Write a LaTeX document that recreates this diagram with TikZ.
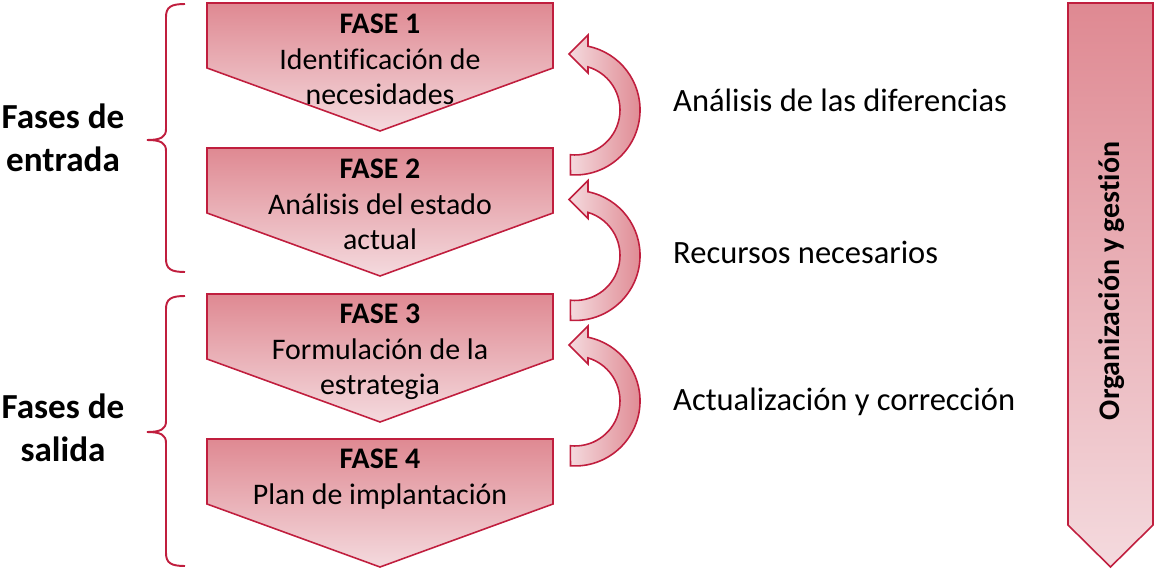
\documentclass[tikz,border=0pt]{standalone}
\usepackage{fontspec}
\setmainfont{Carlito}[Ligatures=NoCommon]
\usepackage{xcolor}
\usepackage{tikz}
\usetikzlibrary{calc}

\definecolor{faseborde}{RGB}{192,30,62}
\definecolor{fasearriba}{RGB}{223,137,146}
\definecolor{faseabajo}{RGB}{244,218,222}

\newcommand{\fasebox}[1]{%
  \shade[top color=fasearriba,bottom color=faseabajo,draw=faseborde,line width=0.9pt]
    (207,#1) -- (553,#1) -- (553,{#1+65}) -- (380,{#1+128}) -- (207,{#1+65}) -- cycle;
}
\newcommand{\vuelta}[1]{%
  \shade[left color=faseabajo,right color=fasearriba,draw=faseborde,line width=0.9pt]
    (570.5,{#1+64.8}) arc (94:-78.5:65) -- (588,{#1-75}) -- (569,{#1-56})
    -- (588,{#1-37}) -- (588,{#1-43.1}) arc (-73.2:96:45) -- cycle;
}
\newcommand{\llave}[3]{%
  \draw[line width=1.1pt,draw=faseborde] (185,#1) .. controls (171,#1) and (166,{#1+3}) .. (166,{#1+13})
    -- (166,{#3-11}) .. controls (166,{#3-3}) and (161,#3) .. (147,#3)
    .. controls (161,#3) and (166,{#3+3}) .. (166,{#3+11})
    -- (166,{#2-13}) .. controls (166,{#2-3}) and (171,#2) .. (185,#2);
}

\begin{document}
\begin{tikzpicture}[x=0.02cm,y=-0.02cm,
    fasetext/.style={anchor=north,align=center,font=\fontsize{17}{20.2}\selectfont},
    ladotext/.style={anchor=base west,font=\fontsize{18.5}{22}\selectfont},
    grupotext/.style={align=center,font=\fontsize{20}{24.4}\selectfont\bfseries}]
        \useasboundingbox (0,0) rectangle (1158,574);

        \fasebox{3}
        \fasebox{148}
        \fasebox{294}
        \fasebox{439}

        \node[fasetext] (fase1) at (380,8) {\textbf{FASE 1}\\Identificación de\\necesidades};
        \node[fasetext] (fase2) at (380,153) {\textbf{FASE 2}\\Análisis del estado\\actual};
        \node[fasetext] (fase3) at (380,298) {\textbf{FASE 3}\\Formulación de la\\estrategia};
        \node[fasetext] (fase4) at (380,443) {\textbf{FASE 4}\\Plan de implantación};

        \vuelta{110}
        \vuelta{255.5}
        \vuelta{401}

        \node[ladotext] (diferencias) at (667,112) {Análisis de las diferencias};
        \node[ladotext] (recursos) at (667,263) {Recursos necesarios};
        \node[ladotext] (correccion) at (667,410) {Actualización y corrección};

        \llave{4}{272}{140}
        \llave{296}{566}{432}

        \node[grupotext] (entrada) at (63,138) {Fases de\\entrada};
        \node[grupotext] (salida) at (63,428) {Fases de\\salida};

        \shade[top color=fasearriba,bottom color=faseabajo,draw=faseborde,line width=0.9pt]
            (1068,3) -- (1153,3) -- (1153,525) -- (1110.5,567) -- (1068,525) -- cycle;
        \node[rotate=90,font=\fontsize{17}{20}\selectfont\bfseries] (gestion) at (1112,281) {Organización y gestión};
    \end{tikzpicture}
\end{document}
